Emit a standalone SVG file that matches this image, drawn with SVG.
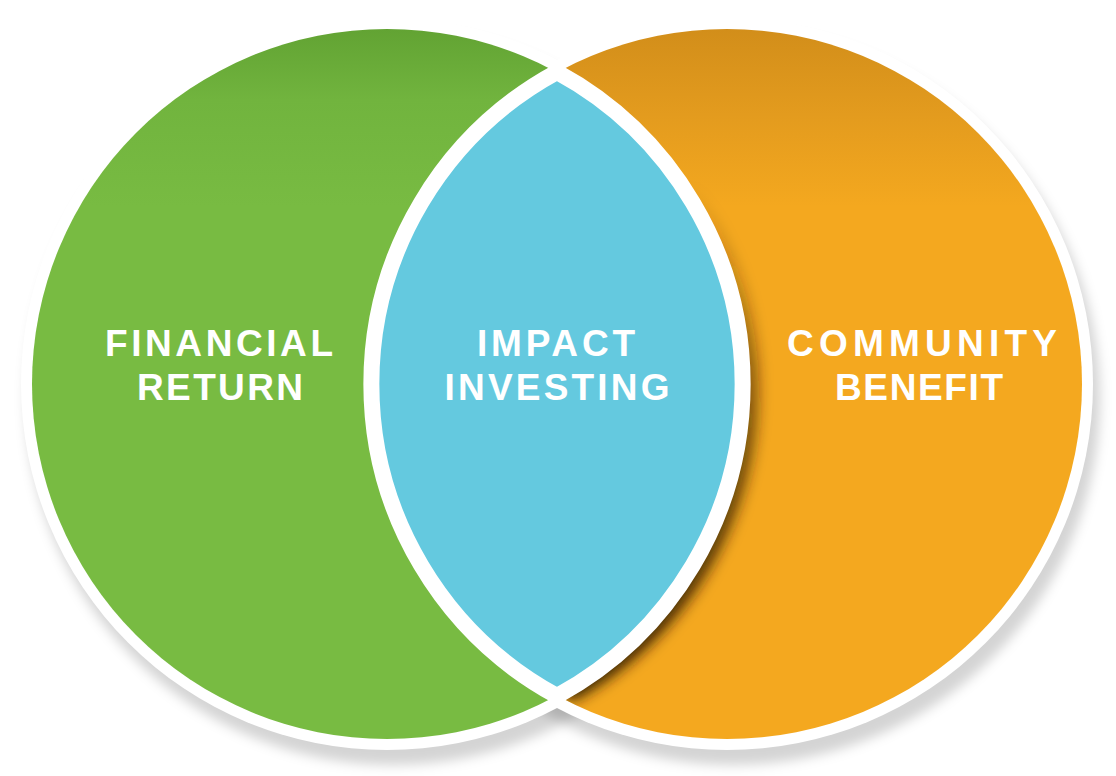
<svg xmlns="http://www.w3.org/2000/svg" width="1116" height="776" viewBox="0 0 1116 776">
  <defs>
    <style>
      .lbl { font-family: "Liberation Sans", Arial, sans-serif; font-weight: bold; font-size: 37px; fill: #ffffff; text-anchor: middle; }
      .halo { fill: #ffffff; }
      .shadow { fill: #000000; fill-opacity: 0.17; }
    </style>
    <filter id="blurS" x="-10%" y="-10%" width="120%" height="120%">
      <feGaussianBlur stdDeviation="6"/>
    </filter>
    <filter id="blurL" x="-30%" y="-10%" width="160%" height="120%">
      <feGaussianBlur stdDeviation="7"/>
    </filter>
    <linearGradient id="gGreen" x1="0" y1="29" x2="0" y2="739" gradientUnits="userSpaceOnUse">
      <stop offset="0" stop-color="#62A333"/>
      <stop offset="0.1" stop-color="#71B43E"/>
      <stop offset="0.25" stop-color="#78BB42"/>
      <stop offset="1" stop-color="#78BB42"/>
    </linearGradient>
    <linearGradient id="gOrange" x1="0" y1="29" x2="0" y2="739" gradientUnits="userSpaceOnUse">
      <stop offset="0" stop-color="#D28E1A"/>
      <stop offset="0.12" stop-color="#E39B1E"/>
      <stop offset="0.25" stop-color="#F4A81F"/>
      <stop offset="1" stop-color="#F4A81F"/>
    </linearGradient>
    <linearGradient id="gLensShadow" x1="0" y1="180" x2="0" y2="700" gradientUnits="userSpaceOnUse">
      <stop offset="0" stop-color="#2E1A00" stop-opacity="0"/>
      <stop offset="0.35" stop-color="#2E1A00" stop-opacity="0.5"/>
      <stop offset="1" stop-color="#2E1A00" stop-opacity="1"/>
    </linearGradient>
    <clipPath id="clipOrange">
      <circle cx="727" cy="384" r="355"/>
    </clipPath>
  </defs>

  <rect x="0" y="0" width="1116" height="776" fill="#ffffff"/>

  <!-- drop shadow and white halo -->
  <g id="backdrop">
    <g filter="url(#blurS)">
      <circle class="shadow" cx="393" cy="398" r="367"/>
      <circle class="shadow" cx="733" cy="398" r="367"/>
    </g>
    <circle class="halo" cx="387" cy="384" r="366"/>
    <circle class="halo" cx="727" cy="384" r="366"/>
  </g>

  <g id="node-financial-return">
    <circle cx="387" cy="384" r="355" fill="url(#gGreen)"/>
  </g>

  <g id="node-community-benefit">
    <circle cx="727" cy="384" r="355" fill="url(#gOrange)"/>
    <g clip-path="url(#clipOrange)">
      <path d="M 557 72 A 355 355 0 0 1 557 696 A 355 355 0 0 1 557 72 Z" transform="translate(16,5)" fill="url(#gLensShadow)" filter="url(#blurL)"/>
    </g>
  </g>

  <g id="node-impact-investing">
    <path d="M 557 72 A 355 355 0 0 1 557 696 A 355 355 0 0 1 557 72 Z" fill="#64C9DF" stroke="#ffffff" stroke-width="16" stroke-linejoin="round"/>
  </g>

  <g id="labels">
    <text class="lbl" x="219" y="356" textLength="228" lengthAdjust="spacing">FINANCIAL</text>
    <text class="lbl" x="220" y="400" textLength="166" lengthAdjust="spacing">RETURN</text>
    <text class="lbl" x="556" y="356" textLength="158" lengthAdjust="spacing">IMPACT</text>
    <text class="lbl" x="557" y="400" textLength="225" lengthAdjust="spacing">INVESTING</text>
    <text class="lbl" x="922" y="356" textLength="270" lengthAdjust="spacing">COMMUNITY</text>
    <text class="lbl" x="919" y="400" textLength="168" lengthAdjust="spacing">BENEFIT</text>
  </g>
</svg>
